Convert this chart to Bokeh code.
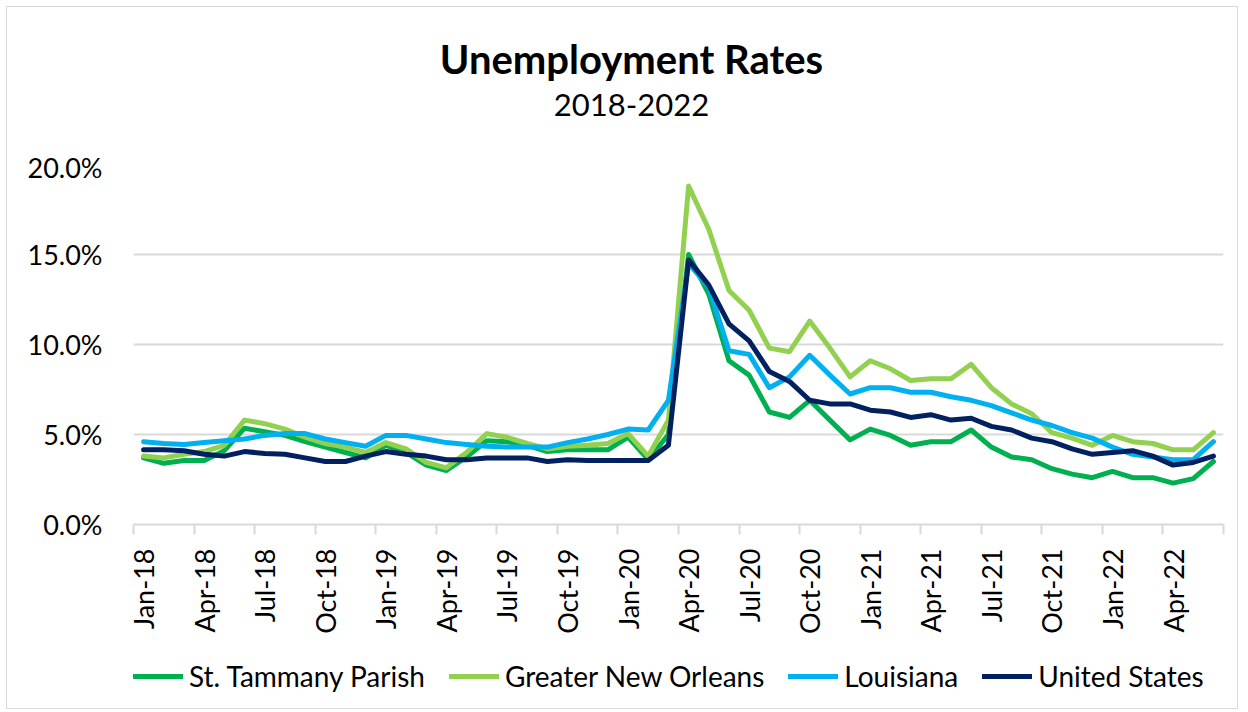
from bokeh.plotting import figure
from bokeh.layouts import column
from bokeh.models import (Range1d, FixedTicker, Legend, LegendItem, Label)
from bokeh.embed import file_html
from bokeh.resources import INLINE
import math

months = ["Jan-18","Feb-18","Mar-18","Apr-18","May-18","Jun-18","Jul-18","Aug-18","Sep-18","Oct-18","Nov-18","Dec-18",
          "Jan-19","Feb-19","Mar-19","Apr-19","May-19","Jun-19","Jul-19","Aug-19","Sep-19","Oct-19","Nov-19","Dec-19",
          "Jan-20","Feb-20","Mar-20","Apr-20","May-20","Jun-20","Jul-20","Aug-20","Sep-20","Oct-20","Nov-20","Dec-20",
          "Jan-21","Feb-21","Mar-21","Apr-21","May-21","Jun-21","Jul-21","Aug-21","Sep-21","Oct-21","Nov-21","Dec-21",
          "Jan-22","Feb-22","Mar-22","Apr-22","May-22","Jun-22"]

st_tammany = [3.7, 3.4, 3.55, 3.55, 4.1, 5.35, 5.15, 4.95, 4.6, 4.3, 4.0, 3.7,
              4.4, 4.0, 3.3, 3.0, 3.75, 4.65, 4.6, 4.4, 4.05, 4.15, 4.15, 4.15,
              4.85, 3.6, 5.0, 15.0, 12.8, 9.1, 8.3, 6.25, 5.95, 6.9, 5.8, 4.7,
              5.3, 4.95, 4.4, 4.6, 4.6, 5.25, 4.3, 3.75, 3.6, 3.1, 2.8, 2.6,
              2.95, 2.6, 2.6, 2.3, 2.55, 3.5]

greater_no = [3.8, 3.7, 3.9, 4.05, 4.4, 5.8, 5.6, 5.3, 4.85, 4.5, 4.3, 4.0,
              4.55, 4.2, 3.45, 3.15, 4.0, 5.05, 4.85, 4.5, 4.2, 4.35, 4.4, 4.5,
              5.05, 3.8, 5.8, 18.8, 16.4, 13.0, 11.9, 9.8, 9.6, 11.3, 9.8, 8.2,
              9.1, 8.65, 8.0, 8.1, 8.1, 8.9, 7.6, 6.7, 6.15, 5.1, 4.8, 4.4,
              4.95, 4.6, 4.5, 4.15, 4.15, 5.1]

louisiana = [4.6, 4.5, 4.45, 4.55, 4.65, 4.75, 4.95, 5.05, 5.05, 4.75, 4.55, 4.35,
             4.95, 4.95, 4.75, 4.55, 4.45, 4.35, 4.3, 4.3, 4.3, 4.55, 4.75, 5.0,
             5.3, 5.25, 6.9, 14.5, 13.2, 9.65, 9.45, 7.6, 8.2, 9.4, 8.3, 7.25,
             7.6, 7.6, 7.35, 7.35, 7.1, 6.9, 6.6, 6.2, 5.8, 5.5, 5.1, 4.8,
             4.3, 3.9, 3.75, 3.6, 3.6, 4.6]

united_states = [4.15, 4.15, 4.1, 3.9, 3.8, 4.05, 3.95, 3.9, 3.7, 3.5, 3.5, 3.8,
                 4.05, 3.9, 3.8, 3.6, 3.6, 3.7, 3.7, 3.7, 3.5, 3.6, 3.55, 3.55,
                 3.55, 3.55, 4.4, 14.7, 13.3, 11.15, 10.2, 8.5, 7.95, 6.9, 6.7, 6.7,
                 6.35, 6.25, 5.95, 6.1, 5.8, 5.9, 5.45, 5.25, 4.8, 4.6, 4.2, 3.9,
                 4.0, 4.1, 3.8, 3.3, 3.45, 3.8]

series_names = ["St. Tammany Parish", "Greater New Orleans", "Louisiana", "United States"]
series_colors = ["#00B050", "#92D050", "#00B0F0", "#002060"]
y_ticks = [0, 5, 10, 15, 20]
y_tick_labels = ["0.0%", "5.0%", "10.0%", "15.0%", "20.0%"]
chart_title = "Unemployment Rates"
chart_subtitle = "2018-2022"

FONT = "Lato"
W = 1230
BL, BR = 126, 14   # left / right borders shared by all strips (frames are aligned)
x = list(range(len(months)))

# ---------------- title strip ----------------
tf = figure(width=W, height=143, output_backend="svg", toolbar_location=None,
            x_range=Range1d(0, W - BL - BR), y_range=Range1d(143, 0),
            x_axis_location=None, y_axis_location=None,
            min_border_left=BL, min_border_right=BR, min_border_top=0, min_border_bottom=0)
tf.grid.grid_line_color = None
tf.outline_line_color = None
tf.border_fill_color = "white"
tf.add_layout(Label(x=498, y=51, text=chart_title, text_align="center", text_baseline="middle",
                    text_font=FONT, text_font_style="bold", text_font_size="40px",
                    text_color="#000000"))
tf.add_layout(Label(x=498, y=97, text=chart_subtitle, text_align="center", text_baseline="middle",
                    text_font=FONT, text_font_size="31px", text_color="#000000"))

# ---------------- main chart ----------------
p = figure(width=W, height=497, output_backend="svg", toolbar_location=None,
           x_range=Range1d(-0.5, len(months) - 0.5), y_range=Range1d(0, 20),
           min_border_left=BL, min_border_right=BR, min_border_top=14, min_border_bottom=123)
p.outline_line_color = None
p.background_fill_color = "white"
p.border_fill_color = "white"

for vals, col in zip([st_tammany, greater_no, louisiana, united_states], series_colors):
    p.line(x, vals, line_color=col, line_width=5, line_join="round", line_cap="round")

label_pos = list(range(0, len(months), 3))
p.xaxis.ticker = FixedTicker(ticks=label_pos,
                             minor_ticks=[i - 0.5 for i in range(0, len(months) + 1, 3)])
p.xaxis.major_label_overrides = {i: months[i] for i in label_pos}
p.xaxis.major_label_orientation = math.pi / 2
p.xaxis.major_tick_out = 0
p.xaxis.major_tick_in = 0
p.xaxis.minor_tick_out = 10
p.xaxis.minor_tick_in = 0
p.xaxis.minor_tick_line_color = "#D9D9D9"
p.xaxis.minor_tick_line_width = 2
p.xaxis.axis_line_color = "#D9D9D9"
p.xaxis.axis_line_width = 2
p.xaxis.major_label_text_font = FONT
p.xaxis.major_label_text_font_size = "27px"
p.xaxis.major_label_text_color = "#000000"
p.xaxis.major_label_standoff = 14
p.xgrid.grid_line_color = None

p.yaxis.ticker = FixedTicker(ticks=y_ticks)
p.yaxis.major_label_overrides = {t: l for t, l in zip(y_ticks, y_tick_labels)}
p.yaxis.axis_line_color = None
p.yaxis.major_tick_line_color = None
p.yaxis.major_tick_out = 0
p.yaxis.major_tick_in = 0
p.yaxis.minor_tick_line_color = None
p.yaxis.major_label_text_font = FONT
p.yaxis.major_label_text_font_size = "27px"
p.yaxis.major_label_text_color = "#000000"
p.yaxis.major_label_standoff = 31
p.ygrid.grid_line_color = "#D9D9D9"
p.ygrid.grid_line_width = 2

# ---------------- legend strip ----------------
lg = figure(width=W, height=61, output_backend="svg", toolbar_location=None,
            x_range=Range1d(0, 1), y_range=Range1d(0, 1),
            x_axis_location=None, y_axis_location=None,
            min_border_left=BL, min_border_right=BR, min_border_top=0, min_border_bottom=0)
lg.grid.grid_line_color = None
lg.outline_line_color = None
lg.border_fill_color = "white"
nan = float("nan")
key_renderers = [lg.line(x=[nan], y=[nan], line_color=c, line_width=5, line_cap="round")
                 for c in series_colors]
legend = Legend(items=[LegendItem(label=n, renderers=[r]) for n, r in zip(series_names, key_renderers)],
                orientation="horizontal", location=(0, 15),
                border_line_color=None, background_fill_alpha=0,
                label_text_font=FONT, label_text_font_size="28px", label_text_color="#000000",
                glyph_width=50, glyph_height=30, label_standoff=6, spacing=24,
                padding=0, margin=0)
lg.add_layout(legend)

layout = column(tf, p, lg, spacing=0)
layout.styles = {"border": "1px solid #D9D9D9", "margin-left": "6px", "margin-top": "6px",
                 "background-color": "white"}

open("out.html", "w").write(file_html(layout, INLINE))
